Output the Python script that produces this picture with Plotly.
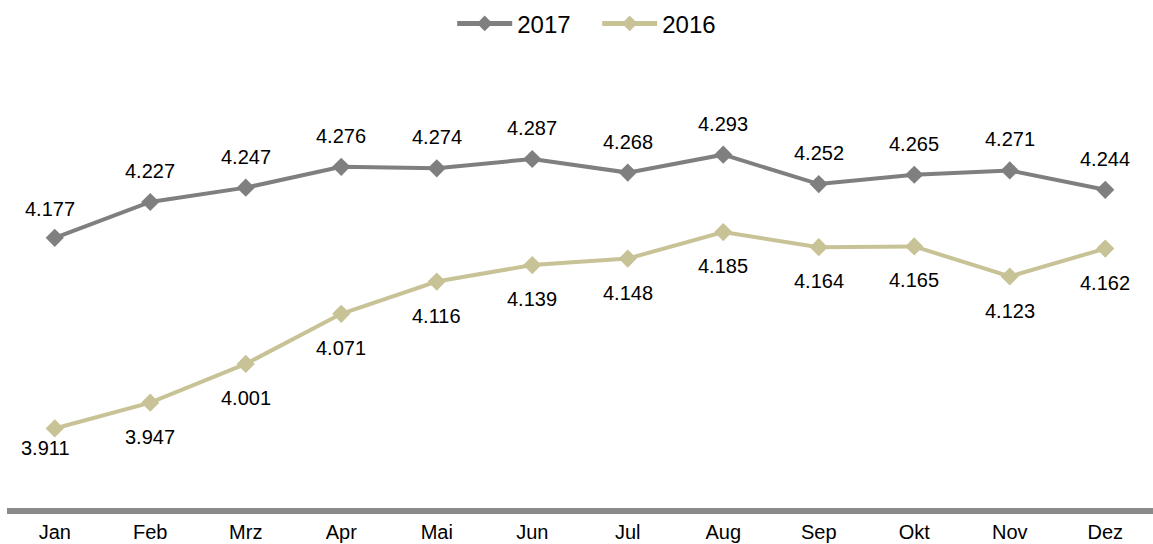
import plotly.graph_objects as go

months = ["Jan", "Feb", "Mrz", "Apr", "Mai", "Jun", "Jul", "Aug", "Sep", "Okt", "Nov", "Dez"]
values_2017 = [4177, 4227, 4247, 4276, 4274, 4287, 4268, 4293, 4252, 4265, 4271, 4244]
values_2016 = [3911, 3947, 4001, 4071, 4116, 4139, 4148, 4185, 4164, 4165, 4123, 4162]

GREY = "#7f7f7f"
AXIS_GREY = "#8a8a8a"
KHAKI = "#c8c397"
FONT = "Liberation Sans, Arial, sans-serif"


def fmt(v):
    # German thousands separator
    return f"{v:,}".replace(",", ".")


fig = go.Figure()
for name, vals, color in [("2017", values_2017, GREY), ("2016", values_2016, KHAKI)]:
    fig.add_trace(go.Scatter(
        x=months, y=vals, name=name, mode="lines+markers",
        line=dict(color=color, width=4),
        marker=dict(symbol="diamond", size=14, color=color),
    ))

annotations = []
for i, (m, v) in enumerate(zip(months, values_2017)):
    annotations.append(dict(
        x=m, y=v, text=fmt(v), showarrow=False,
        yshift=29 if i == 0 else 31, xshift=-5 if i == 0 else 0,
        font=dict(family=FONT, size=20, color="#000000"),
    ))
for i, (m, v) in enumerate(zip(months, values_2016)):
    annotations.append(dict(
        x=m, y=v, text=fmt(v), showarrow=False,
        yshift=-20 if i == 0 else -34, xshift=-9 if i == 0 else 0,
        font=dict(family=FONT, size=20, color="#000000"),
    ))

fig.update_layout(
    width=1153, height=544,
    margin=dict(l=7, r=0, t=78, b=36),
    paper_bgcolor="white", plot_bgcolor="white",
    font=dict(family=FONT, size=20, color="#000000"),
    showlegend=True,
    legend=dict(
        orientation="h", x=0.515, xanchor="center", y=1.126, yanchor="middle",
        font=dict(family=FONT, size=24, color="#000000"),
        itemwidth=55, itemsizing="constant", tracegroupgap=0,
        entrywidth=75, entrywidthmode="pixels",
    ),
    xaxis=dict(
        range=[-0.5, 11.5],
        showline=True, linecolor=AXIS_GREY, linewidth=6,
        showgrid=False, zeroline=False, ticks="",
        ticklabelstandoff=1,
        tickfont=dict(family=FONT, size=20, color="#000000"),
        fixedrange=True,
    ),
    yaxis=dict(
        range=[3800, 4400], visible=False, showgrid=False, zeroline=False,
        fixedrange=True,
    ),
    annotations=annotations,
)

fig.write_html("out.html")
